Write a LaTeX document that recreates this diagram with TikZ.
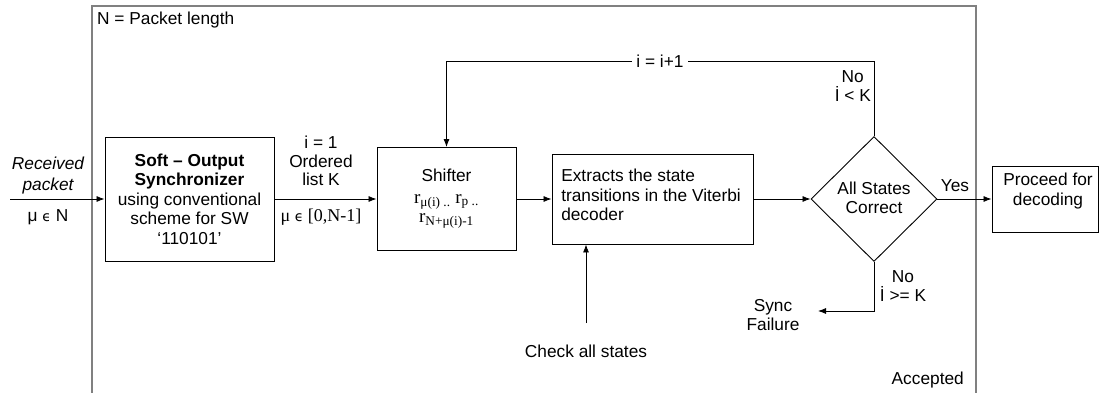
\documentclass[tikz,border=0pt]{standalone}
\usepackage{fontspec}
\setmainfont{Liberation Sans}
\newfontfamily\tnr{Liberation Serif}
\newfontfamily\dvs{DejaVu Sans}
\usetikzlibrary{shapes.geometric,arrows.meta}
\begin{document}
\begin{tikzpicture}[x=1pt,y=-1pt,
  box/.style={draw, line width=0.9pt, inner sep=0pt, align=center, font=\fontsize{17.3}{19.5}\selectfont},
  dia/.style={draw, diamond, line width=0.9pt, inner sep=0pt, minimum width=126pt, minimum height=125pt},
  txt/.style={inner sep=0pt, align=center, font=\fontsize{17.3}{19.5}\selectfont},
  arr/.style={-{Latex[length=8pt,width=6pt]}, line width=0.8pt},
  ln/.style={line width=0.8pt},
  frame/.style={draw=black!50, line width=1.8pt}]
\useasboundingbox (0,0) rectangle (1099,393);
% outer frame
\draw[frame] (92,393) -- (92,6) -- (976,6) -- (976,393);
\node[txt, anchor=west] (nlen) at (97,20) {N = Packet length};
\node[txt, anchor=east] (acc) at (964,380) {Accepted};

% blocks
\node[box, minimum width=169pt, minimum height=124pt] (sync) at (189.5,199)
  {\textbf{Soft – Output}\\\textbf{Synchronizer}\\using conventional\\scheme for SW\\‘110101’};
\node[box, minimum width=139pt, minimum height=103pt] (shift) at (446.5,199) {};
\node[txt] (shifttxt) at (446.5,199)
  {Shifter\\[2pt]{\tnr\fontsize{19}{19}\selectfont r\textsubscript{μ(i) ..} r\textsubscript{p ..}}\\{\tnr\fontsize{19}{19}\selectfont r\textsubscript{N+μ(i)-1}}};
\node[box, minimum width=201pt, minimum height=90pt] (ext) at (652.5,199) {};
\node[txt, align=left] (exttxt) at (651,195) {Extracts the state\\transitions in the Viterbi\\decoder};
\node[dia] (d) at (874,199) {};
\node[txt] (dtxt) at (874,198) {All States\\Correct};
\node[box, minimum width=106pt, minimum height=66pt] (proc) at (1045,199) {};
\node[txt] (proctxt) at (1048,191) {Proceed for\\decoding};

% input
\coordinate (in) at (10,199);
\draw[arr] (in) -- (sync.west);
\node[txt, font=\fontsize{17.3}{21}\selectfont\itshape] (recv) at (48,176) {Received\\packet};
\node[txt] (mun) at (48,217) {μ {\dvs\fontsize{14}{16}\selectfont ϵ} N};

% sync -> shifter
\draw[arr] (sync.east) -- (shift.west);
\node[txt, font=\fontsize{17.3}{18.5}\selectfont] (ilab) at (321,161) {i = 1\\Ordered\\list K};
\node[txt] (mulab) at (321,217) {\tnr\fontsize{18}{18}\selectfont μ {\dvs\fontsize{14}{16}\selectfont ϵ} [0,N-1]};

\draw[arr] (shift.east) -- (ext.west);
\draw[arr] (ext.east) -- (d.west);
\draw[arr] (d.east) -- (proc.west);
\node[txt] (yes) at (955,186) {Yes};

% loop back
\coordinate (top) at (874,61);
\draw[arr] (d.north) -- (top) -| (shift.north);
\node[txt, fill=white, inner xsep=4pt] (inc) at (660,61) {i = i+1};
\node[txt, anchor=east] (nolt) at (871,86) {No\\İ < K};

% failure
\coordinate (fail) at (818,311);
\draw[arr] (d.south) |- (fail);
\node[txt] (sync2) at (773,315) {Sync\\Failure};
\node[txt] (noge) at (903,286) {No\\İ >= K};

% check all states
\coordinate (chk) at (586,323);
\draw[arr] (chk) -- (chk |- ext.south);
\node[txt] (chktxt) at (586,351) {Check all states};
\end{tikzpicture}
\end{document}
